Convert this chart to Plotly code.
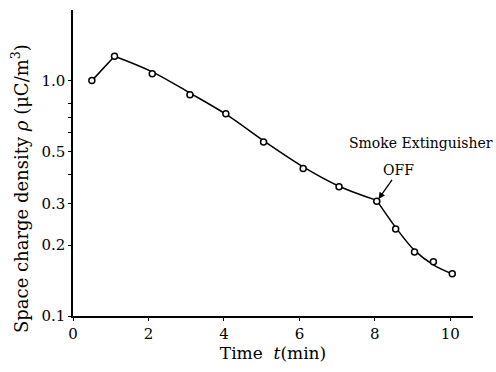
import math
import plotly.graph_objects as go

# Data
time_min = [0.5, 1.1, 2.1, 3.1, 4.05, 5.05, 6.1, 7.05, 8.05, 8.55, 9.05, 9.55, 10.05]
rho = [1.0, 1.27, 1.07, 0.87, 0.724, 0.549, 0.423, 0.354, 0.307, 0.234, 0.187, 0.170, 0.151]

# drawn curve: straight rise, smooth decay, kink at extinguisher OFF
curve0_t = [0.5, 1.1]
curve0_rho = [1.0, 1.27]
curve1_t = [1.1, 2.1, 3.1, 4.05, 5.05, 6.1, 7.05, 8.05]
curve1_rho = [1.27, 1.09, 0.885, 0.72, 0.555, 0.43, 0.356, 0.31]
curve2_t = [8.05, 8.55, 9.05, 9.55, 10.05]
curve2_rho = [0.31, 0.238, 0.19, 0.165, 0.151]

y_tickvals = [0.1, 0.2, 0.3, 0.4, 0.5, 0.6, 0.7, 0.8, 1.0]
y_ticktext = ["0.1", "0.2", "0.3", "", "0.5", "", "", "", "1.0"]
x_tickvals = [0, 2, 4, 6, 8, 10]

FONT = "DejaVu Serif"

fig = go.Figure()
fig.add_trace(go.Scatter(x=curve0_t, y=curve0_rho, mode="lines",
                         line=dict(color="black", width=1.5),
                         showlegend=False, hoverinfo="skip"))
for ct, cr in [(curve1_t, curve1_rho), (curve2_t, curve2_rho)]:
    fig.add_trace(go.Scatter(x=ct, y=cr, mode="lines",
                             line=dict(color="black", width=1.5, shape="spline", smoothing=1.0),
                             showlegend=False, hoverinfo="skip"))
fig.add_trace(go.Scatter(x=time_min, y=rho, mode="markers",
                         marker=dict(symbol="circle", size=6, color="white",
                                     line=dict(color="black", width=1.5)),
                         showlegend=False))

# "OFF" label with arrow to the point where the extinguisher was switched off
# (annotations on a log axis take log10 of the value)
fig.add_annotation(x=time_min[8], y=math.log10(rho[8]), xref="x", yref="y",
                   ax=22, ay=-31, text="OFF", showarrow=True,
                   arrowhead=2, arrowsize=1, arrowwidth=1.3,
                   arrowcolor="black", standoff=3,
                   font=dict(family=FONT, size=14, color="black"))
fig.add_annotation(x=1.055, y=0.565, xref="paper", yref="paper",
                   text="Smoke Extinguisher", showarrow=False, xanchor="right",
                   font=dict(family=FONT, size=14, color="black"))
# y-axis title
fig.add_annotation(x=(20 - 73) / 400, y=0.415, xref="paper", yref="paper",
                   text="Space charge density <i>ρ</i> (μC/m<sup>3</sup>)",
                   showarrow=False, textangle=-90, xanchor="center", yanchor="middle",
                   font=dict(family=FONT, size=18, color="black"))

fig.update_layout(
    width=496, height=372,
    margin=dict(l=73, r=23, t=10, b=56),
    paper_bgcolor="white", plot_bgcolor="white",
    font=dict(family=FONT, size=15, color="black"),
    xaxis=dict(range=[0, 10.6], tickvals=x_tickvals, showgrid=False, zeroline=False,
               showline=True, linecolor="black", linewidth=1.5,
               ticks="outside", ticklen=3, tickcolor="black", automargin=False,
               title=dict(text="Time\u00a0 <i>t</i>(min)", standoff=5,
                          font=dict(family=FONT, size=17))),
    yaxis=dict(type="log", range=[-1, 0.3], tickvals=y_tickvals, ticktext=y_ticktext,
               showgrid=False, zeroline=False,
               showline=True, linecolor="black", linewidth=1.5,
               ticks="outside", ticklen=3, tickcolor="black", automargin=False),
)

fig.write_html("out.html", config={"displayModeBar": False},
               post_script="document.body.style.margin='0px';")
